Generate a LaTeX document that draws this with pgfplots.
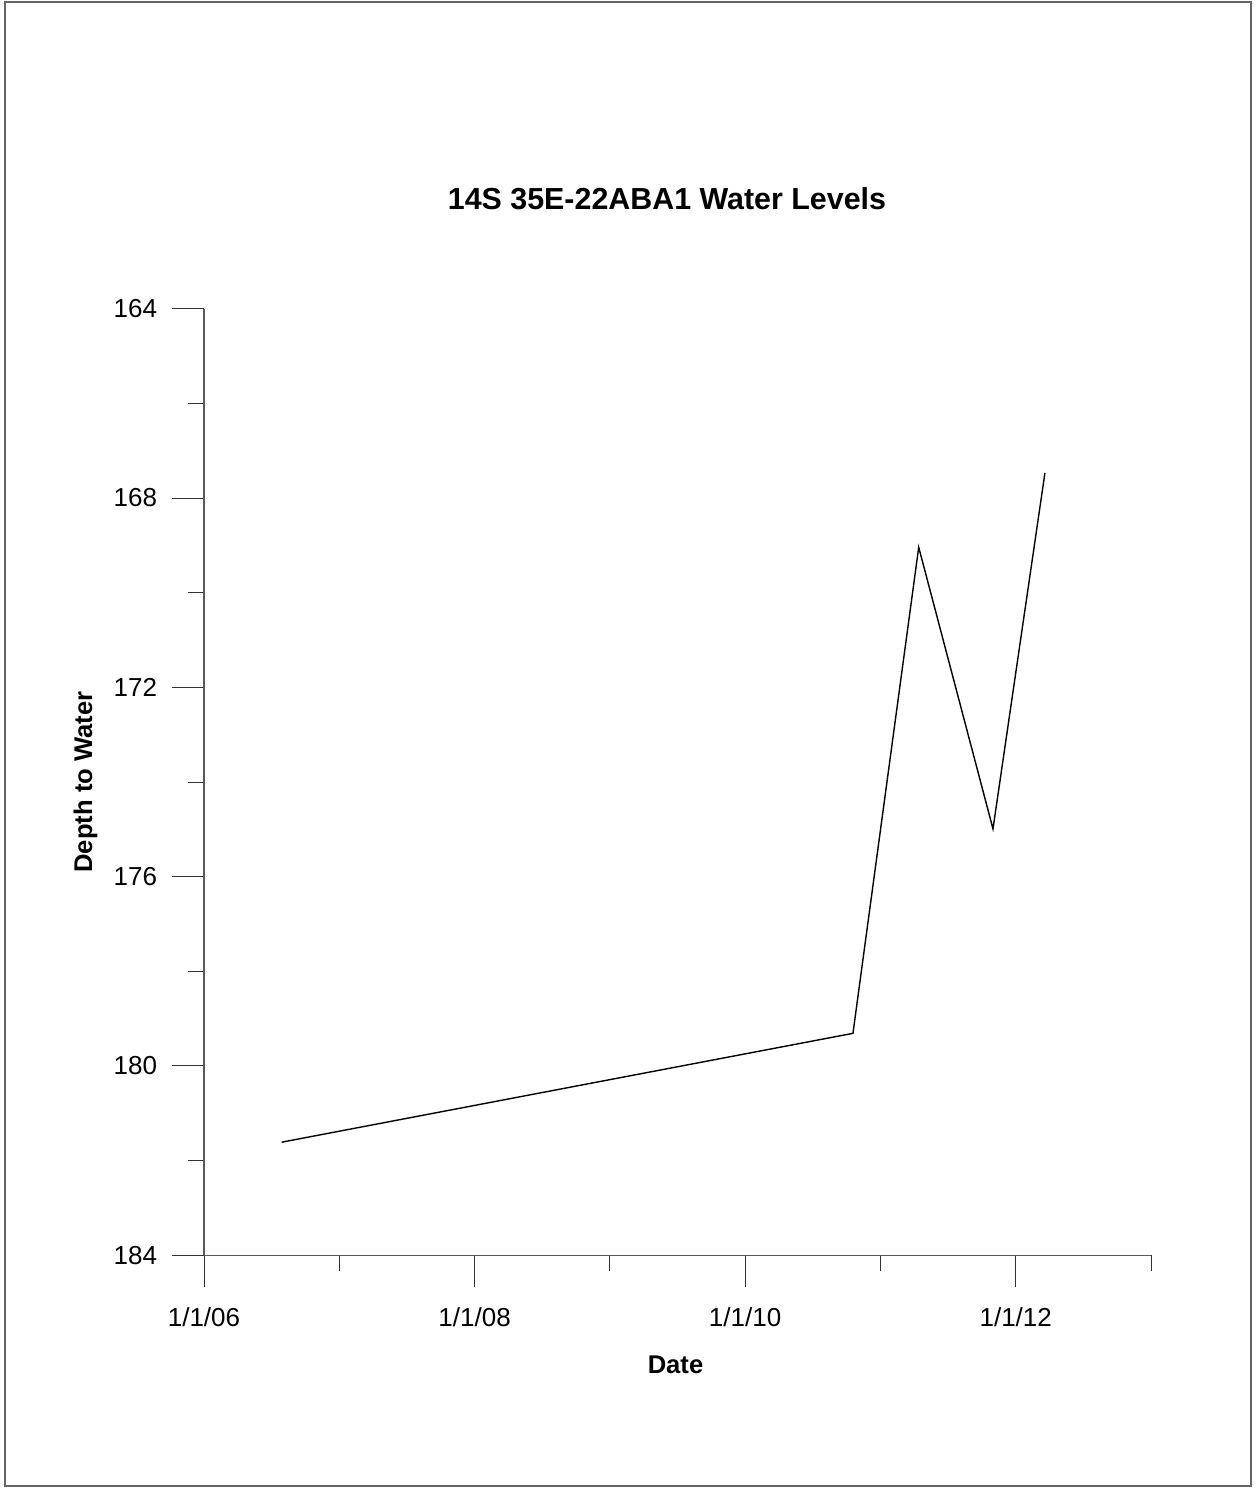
\documentclass[border=0pt]{standalone}
\usepackage{fontspec}
\setmainfont{Liberation Sans}
\usepackage{pgfplots}
\pgfplotsset{compat=1.18}
\begin{document}
\begin{tikzpicture}
\useasboundingbox (0,0) rectangle (627pt,744.5pt);
\draw[line width=1pt, color=black!60] (2.5pt,1.5pt) rectangle (625.5pt,743.5pt);
\begin{axis}[
  at={(102pt,116.85pt)}, anchor=south west,
  scale only axis, width=473.5pt, height=473.3pt,
  xmin=2006, xmax=2013, ymin=164, ymax=184, y dir=reverse,
  axis x line=bottom, axis y line=left,
  axis line style={-, black!65, line width=0.75pt},
  xtick={2006,2008,2010,2012}, xticklabels={1/1/06,1/1/08,1/1/10,1/1/12},
  minor xtick={2007,2009,2011,2013},
  ytick={164,168,...,184}, minor ytick={166,170,...,182},
  tick align=outside, major tick length=16pt, minor tick length=8pt,
  tick style={black!80, line width=0.5pt},
  /pgf/number format/assume math mode=true,
  ticklabel style={font=\fontsize{13}{15}\selectfont},
  xticklabel style={yshift=-6.5pt},
  yticklabel style={xshift=-4pt},
  clip=false,
]
\addplot[black, line width=0.7pt, mark=none] coordinates {
  (2006.574,181.61) (2010.797,179.31) (2011.283,169.04) (2011.832,174.99) (2012.216,167.47)
};
\end{axis}
\node[anchor=base, font=\bfseries\fontsize{15.2}{18}\selectfont] at (333.5pt,639.5pt) {14S 35E-22ABA1 Water Levels};
\node[anchor=base, font=\bfseries\fontsize{12.8}{15}\selectfont] at (337.75pt,57.5pt) {Date};
\node[rotate=90, anchor=base, font=\bfseries\fontsize{12.8}{15}\selectfont] at (46pt,353.5pt) {Depth to Water};
\end{tikzpicture}
\end{document}
